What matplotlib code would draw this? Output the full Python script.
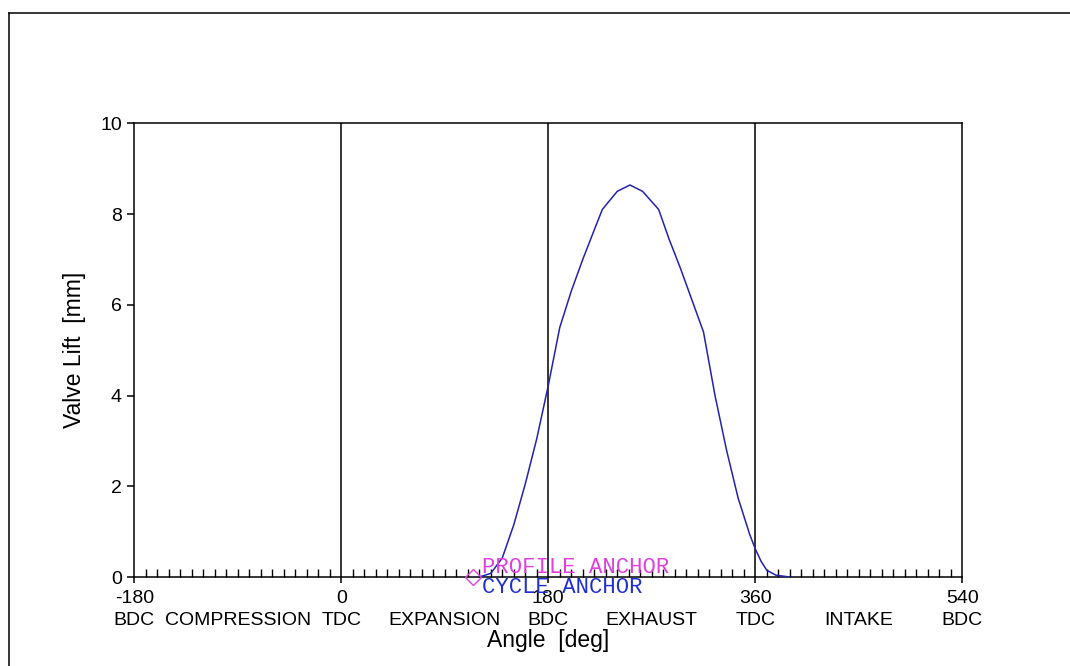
import matplotlib
matplotlib.use("Agg")
import matplotlib.pyplot as plt
from matplotlib.lines import Line2D
from matplotlib.ticker import MultipleLocator

# valve lift profile
angle = [120, 130, 140, 150, 160, 170, 180, 190, 200, 210, 220, 227,
         240, 251, 262, 276, 285, 295, 305, 315, 325, 335, 345, 355,
         360, 365, 370, 378, 390]
lift = [0.0, 0.08, 0.42, 1.15, 2.05, 3.05, 4.22, 5.5, 6.3, 7.0, 7.65, 8.1,
        8.5, 8.64, 8.5, 8.1, 7.45, 6.8, 6.1, 5.4, 4.0, 2.8, 1.75, 0.95,
        0.62, 0.35, 0.15, 0.04, 0.0]

major_ticks = [-180, 0, 180, 360, 540]
phase_lines = [0, 180, 360]
phase_labels = [(-180, "BDC"), (-90, "COMPRESSION"), (0, "TDC"),
                (90, "EXPANSION"), (180, "BDC"), (270, "EXHAUST"),
                (360, "TDC"), (450, "INTAKE"), (540, "BDC")]
anchor_angle = 114.5
anchor_text_angle = 122

plt.rcParams["font.family"] = ["Liberation Sans", "DejaVu Sans"]
plt.rcParams["axes.unicode_minus"] = False
fig = plt.figure(figsize=(10.70, 6.66), dpi=100)
ax = fig.add_axes([0.1255, 0.1336, 0.7738, 0.6813])

# outer frame (top and left only, as in the screenshot)
fig.add_artist(Line2D([9 / 1070, 9 / 1070], [0, 1 - 13 / 666],
                      transform=fig.transFigure, color="black", lw=1.1))
fig.add_artist(Line2D([9 / 1070, 1], [1 - 13 / 666, 1 - 13 / 666],
                      transform=fig.transFigure, color="black", lw=1.1))

for x in phase_lines:
    ax.axvline(x, color="black", lw=1.1, zorder=1)

ax.plot(angle, lift, color="#2222b0", lw=1.1, zorder=3)

ax.set_xlim(-180, 540)
ax.set_ylim(0, 10)
ax.set_xticks(major_ticks)
ax.xaxis.set_minor_locator(MultipleLocator(10))
ax.set_yticks([0, 2, 4, 6, 8, 10])
ax.tick_params(axis="x", which="major", direction="out", length=4,
               width=1.1, pad=5.5, labelsize=14)
ax.tick_params(axis="x", which="minor", direction="in", length=6, width=1.0)
ax.tick_params(axis="y", which="major", direction="out", length=5,
               width=1.1, pad=4, labelsize=14)
for s in ax.spines.values():
    s.set_linewidth(1.1)

tr = ax.get_xaxis_transform()
for x, t in phase_labels:
    ax.text(x, -0.0955, t, transform=tr, ha="center", va="center",
            fontsize=14, clip_on=False)
ax.text(0.5, -0.139, "Angle  [deg]", transform=ax.transAxes, ha="center",
        va="center", fontsize=16.5, clip_on=False)
ax.set_ylabel("Valve Lift  [mm]", fontsize=16.5, labelpad=10)

# anchors
ax.plot([anchor_angle], [0], marker="D", ms=8.5, mfc="none", mec="#e040e0",
        mew=1.0, clip_on=False, zorder=4)
ax.text(anchor_text_angle, 0.09, "PROFILE ANCHOR", color="#e040e0",
        family="Liberation Mono", fontsize=16, va="baseline", ha="left",
        clip_on=False, zorder=5)
ax.text(anchor_text_angle, -0.35, "CYCLE ANCHOR", color="#2030d0",
        family="Liberation Mono", fontsize=16, va="baseline", ha="left",
        clip_on=False, zorder=5)

fig.savefig("out.png", dpi=100)
